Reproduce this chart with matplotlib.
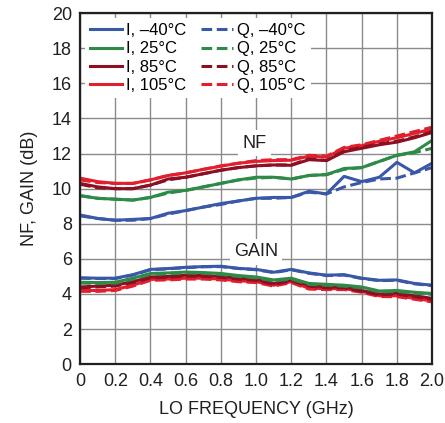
import numpy as np
import matplotlib
matplotlib.use("Agg")
import matplotlib.pyplot as plt

plt.rcParams['font.family'] = ['Liberation Sans Narrow', 'Liberation Sans', 'DejaVu Sans']

f = [0, 0.1, 0.2, 0.3, 0.4, 0.5, 0.6, 0.7, 0.8, 0.9, 1.0, 1.1, 1.2, 1.3, 1.4, 1.5, 1.6, 1.7, 1.8, 1.9, 2.0]

# noise figure, I channel
nf_i_m40 = [8.5, 8.3, 8.2, 8.25, 8.3, 8.6, 8.75, 8.95, 9.15, 9.3, 9.45, 9.5, 9.5, 9.85, 9.7, 10.7, 10.4, 10.65, 11.5, 10.9, 11.45]
nf_i_25 = [9.6, 9.45, 9.4, 9.35, 9.5, 9.8, 9.9, 10.1, 10.3, 10.5, 10.65, 10.65, 10.55, 10.75, 10.8, 11.15, 11.2, 11.55, 11.9, 12.1, 12.75]
nf_i_85 = [10.3, 10.1, 10.0, 10.0, 10.2, 10.55, 10.65, 10.85, 11.05, 11.2, 11.3, 11.35, 11.33, 11.65, 11.6, 12.1, 12.3, 12.5, 12.65, 12.9, 13.2]
nf_i_105 = [10.6, 10.4, 10.3, 10.3, 10.5, 10.75, 10.9, 11.1, 11.28, 11.45, 11.55, 11.6, 11.62, 11.85, 11.8, 12.3, 12.45, 12.7, 12.9, 13.15, 13.4]
# noise figure, Q channel
nf_q_m40 = [8.45, 8.3, 8.2, 8.2, 8.3, 8.55, 8.75, 8.95, 9.1, 9.3, 9.45, 9.45, 9.5, 9.8, 9.7, 10.1, 10.35, 10.55, 10.6, 10.9, 11.2]
nf_q_25 = [9.6, 9.45, 9.4, 9.35, 9.5, 9.75, 9.9, 10.1, 10.3, 10.5, 10.6, 10.65, 10.55, 10.75, 10.8, 11.1, 11.2, 11.55, 11.9, 12.05, 12.3]
nf_q_85 = [10.25, 10.05, 10.0, 10.0, 10.2, 10.5, 10.65, 10.85, 11.05, 11.2, 11.3, 11.35, 11.35, 11.7, 11.6, 12.15, 12.35, 12.55, 12.7, 12.95, 13.25]
nf_q_105 = [10.5, 10.35, 10.3, 10.3, 10.5, 10.75, 10.9, 11.1, 11.3, 11.45, 11.6, 11.65, 11.65, 11.9, 11.85, 12.35, 12.5, 12.75, 13.0, 13.25, 13.5]

# gain, I channel
g_i_m40 = [4.92, 4.9, 4.9, 5.1, 5.4, 5.45, 5.52, 5.56, 5.58, 5.46, 5.4, 5.24, 5.4, 5.2, 5.07, 5.1, 4.9, 4.78, 4.8, 4.6, 4.5]
g_i_25 = [4.67, 4.65, 4.67, 4.9, 5.17, 5.2, 5.25, 5.22, 5.17, 5.05, 4.97, 4.8, 4.9, 4.6, 4.55, 4.5, 4.4, 4.17, 4.2, 4.1, 4.03]
g_i_85 = [4.4, 4.45, 4.5, 4.7, 4.97, 5.0, 5.07, 5.05, 5.0, 4.9, 4.83, 4.6, 4.8, 4.5, 4.4, 4.4, 4.2, 4.0, 4.05, 3.9, 3.75]
g_i_105 = [4.2, 4.2, 4.25, 4.5, 4.83, 4.85, 4.9, 4.9, 4.85, 4.75, 4.7, 4.5, 4.7, 4.33, 4.3, 4.3, 4.15, 3.9, 3.9, 3.75, 3.6]
# gain, Q channel
g_q_m40 = [4.9, 4.88, 4.88, 5.08, 5.38, 5.43, 5.5, 5.55, 5.56, 5.45, 5.38, 5.22, 5.38, 5.18, 5.05, 5.08, 4.88, 4.76, 4.78, 4.58, 4.48]
g_q_25 = [4.62, 4.6, 4.62, 4.85, 5.12, 5.15, 5.2, 5.18, 5.12, 5.0, 4.92, 4.75, 4.85, 4.55, 4.5, 4.45, 4.35, 4.12, 4.15, 4.05, 3.98]
g_q_85 = [4.35, 4.4, 4.45, 4.65, 4.92, 4.95, 5.02, 5.0, 4.95, 4.85, 4.78, 4.55, 4.75, 4.45, 4.35, 4.35, 4.15, 3.95, 4.0, 3.85, 3.7]
g_q_105 = [4.15, 4.15, 4.2, 4.45, 4.78, 4.8, 4.85, 4.85, 4.8, 4.7, 4.65, 4.45, 4.65, 4.28, 4.25, 4.25, 4.1, 3.85, 3.85, 3.7, 3.55]

temps = ["\u201340\u00b0C", "25\u00b0C", "85\u00b0C", "105\u00b0C"]
colors = ["#3a58a8", "#2e8b47", "#8c0f24", "#e21f2c"]

nf_i = [nf_i_m40, nf_i_25, nf_i_85, nf_i_105]
nf_q = [nf_q_m40, nf_q_25, nf_q_85, nf_q_105]
g_i = [g_i_m40, g_i_25, g_i_85, g_i_105]
g_q = [g_q_m40, g_q_25, g_q_85, g_q_105]

fig = plt.figure(figsize=(4.45, 4.23), dpi=100)
ax = fig.add_axes([0.180, 0.139, 0.791, 0.830])

lw = 2.2
dash = (0, (3.5, 1.5))
# hottest first so the blue ends up on top
for k in [3, 2, 1, 0]:
    ax.plot(f, nf_q[k], color=colors[k], lw=lw, ls=dash)
    ax.plot(f, nf_i[k], color=colors[k], lw=lw)
    ax.plot(f, g_q[k], color=colors[k], lw=lw, ls=dash)
    ax.plot(f, g_i[k], color=colors[k], lw=lw)

# legend handles
h = []
for k in range(4):
    h.append(ax.plot([], [], color=colors[k], lw=lw, label="I, " + temps[k])[0])
for k in range(4):
    h.append(ax.plot([], [], color=colors[k], lw=lw, ls=dash, label="Q, " + temps[k])[0])
leg = ax.legend(handles=h, ncol=2, loc="upper left", bbox_to_anchor=(0.0, 1.0),
                fontsize=12, frameon=True, fancybox=False, edgecolor="none",
                framealpha=1, handlelength=1.9, handletextpad=0.25,
                columnspacing=0.9, labelspacing=0.2, borderpad=0.3,
                borderaxespad=0.3)
leg.set_zorder(5)

ax.text(0.99, 12.6, "NF", fontsize=13, ha="center", va="center", color="#231f20",
        bbox=dict(facecolor="white", edgecolor="none", pad=3), zorder=6)
ax.text(1.0, 6.4, "GAIN", fontsize=13, ha="center", va="center", color="#231f20",
        bbox=dict(facecolor="white", edgecolor="none", pad=3), zorder=6)

ax.set_xlim(0, 2.0)
ax.set_ylim(0, 20)
ax.set_xticks(np.arange(0, 2.01, 0.2))
ax.set_xticklabels(["0", "0.2", "0.4", "0.6", "0.8", "1.0", "1.2", "1.4", "1.6", "1.8", "2.0"])
ax.set_yticks(np.arange(0, 21, 2))
ax.grid(True, color="#8a8a8a", lw=1.0)
ax.set_axisbelow(True)
ax.tick_params(length=0, labelsize=13, pad=6, colors="#231f20")
for s in ax.spines.values():
    s.set_linewidth(1.6)
    s.set_color("#231f20")

ax.set_xlabel("LO FREQUENCY (GHz)", fontsize=13, color="#231f20", labelpad=8)
ax.set_ylabel("NF, GAIN (dB)", fontsize=13, color="#231f20", labelpad=10)

fig.savefig("out.png", dpi=100)
